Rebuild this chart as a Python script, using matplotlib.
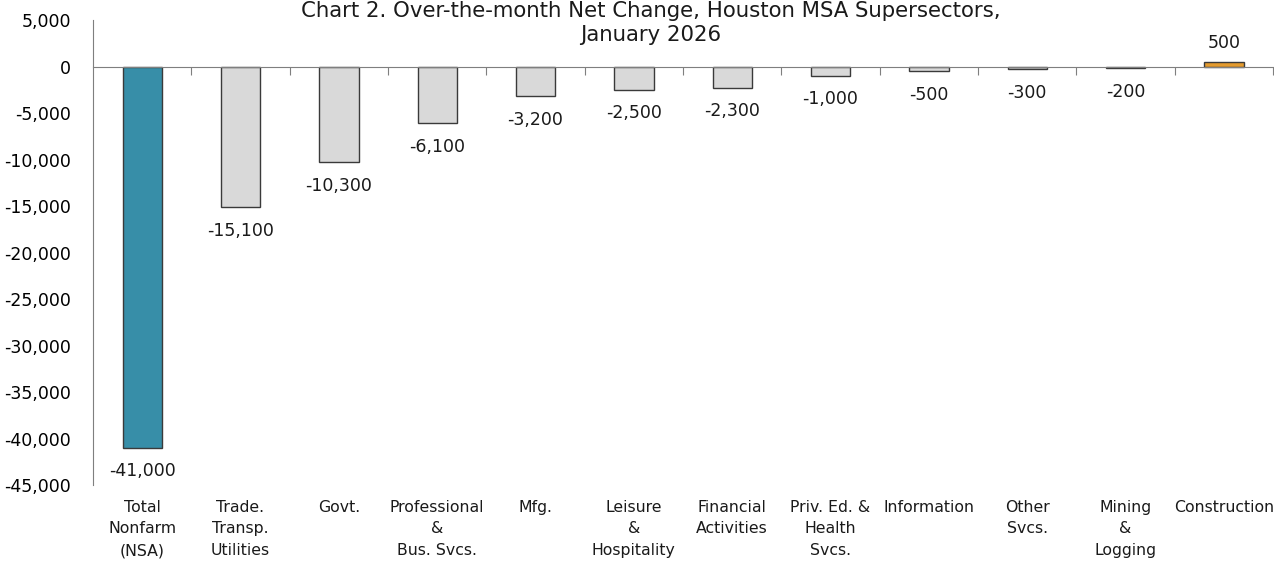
import numpy as np
import matplotlib.pyplot as plt
import matplotlib.transforms as mtransforms

# Over-the-month net change by supersector, Houston MSA
sectors = ['Total\nNonfarm\n(NSA)', 'Trade.\nTransp.\nUtilities', 'Govt.',
           'Professional\n&\nBus. Svcs.', 'Mfg.', 'Leisure\n&\nHospitality',
           'Financial\nActivities', 'Priv. Ed. &\nHealth\nSvcs.', 'Information',
           'Other\nSvcs.', 'Mining\n&\nLogging', 'Construction']
net_change = [-41000, -15100, -10300, -6100, -3200, -2500,
              -2300, -1000, -500, -300, -200, 500]

teal = '#378EA8'
gray = '#D9D9D9'
orange = '#E49B2E'

plt.rcParams['font.family'] = 'DejaVu Sans'
plt.rcParams['font.size'] = 12.5

fig = plt.figure(figsize=(12.74, 5.62), dpi=100)
ax = fig.add_axes([93 / 1274, 1 - 485 / 562, 1180 / 1274, 465 / 562])

x = np.arange(len(sectors))
colors = [teal] + [orange if v > 0 else gray for v in net_change[1:]]
ax.bar(x, net_change, width=0.4, color=colors, edgecolor='#3a3a3a', linewidth=1.0)

# value labels under negative bars, above positive ones
for xi, v in zip(x, net_change):
    off = 7 if v > 0 else -10.5
    ax.annotate(f'{v:,}', (xi, v), xytext=(0, off), textcoords='offset points',
                ha='center', va='bottom' if v > 0 else 'top', color='#1a1a1a')

ax.set_xlim(-0.5, len(sectors) - 0.5)
ax.set_ylim(-45000, 5000)
ax.set_yticks(np.arange(-45000, 5001, 5000))
ax.set_yticklabels([f'{t:,}' for t in np.arange(-45000, 5001, 5000)])
ax.tick_params(axis='y', length=0, pad=16)

# category axis sits on zero with ticks between categories
ax.spines['bottom'].set_position(('data', 0))
ax.spines['bottom'].set_color('#7f7f7f')
ax.spines['left'].set_color('#7f7f7f')
ax.spines['top'].set_visible(False)
ax.spines['right'].set_visible(False)
ax.set_xticks(x + 0.5)
ax.set_xticklabels([])
ax.tick_params(axis='x', direction='out', length=6, color='#7f7f7f')

trans = mtransforms.blended_transform_factory(ax.transData, ax.transAxes)
for xi, name in zip(x, sectors):
    ax.text(xi, -0.032, name, transform=trans, ha='center', va='top',
            fontsize=11.3, linespacing=1.55, color='#1a1a1a')

fig.text(0.511, 0.998, 'Chart 2. Over-the-month Net Change, Houston MSA Supersectors,\nJanuary 2026',
         ha='center', va='top', fontsize=15.3, linespacing=1.22, color='#1a1a1a')

fig.savefig('out.png', dpi=100)
